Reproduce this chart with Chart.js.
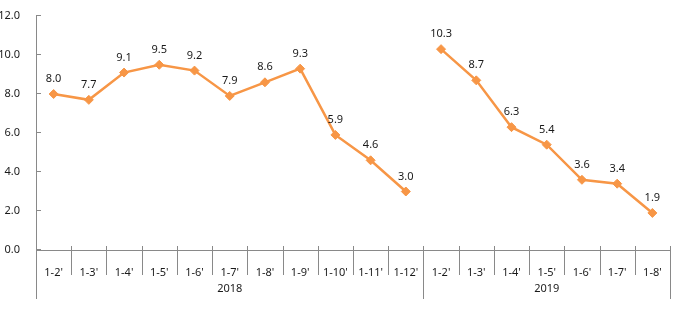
<!DOCTYPE html>
<html>
<head>
<meta charset="utf-8">
<script src="https://cdn.jsdelivr.net/npm/chart.js@4"></script>
<style>
  html, body { margin: 0; padding: 0; background: #fff; }
  #wrap { width: 680px; height: 325px; position: relative; }
</style>
</head>
<body>
<div id="wrap"><canvas id="growthChart"></canvas></div>
<script>
// categories and values
const months2018 = ["1-2'", "1-3'", "1-4'", "1-5'", "1-6'", "1-7'", "1-8'", "1-9'", "1-10'", "1-11'", "1-12'"];
const months2019 = ["1-2'", "1-3'", "1-4'", "1-5'", "1-6'", "1-7'", "1-8'"];
const values2018 = [8.0, 7.7, 9.1, 9.5, 9.2, 7.9, 8.6, 9.3, 5.9, 4.6, 3.0];
const values2019 = [10.3, 8.7, 6.3, 5.4, 3.6, 3.4, 1.9];
const yearLabels = ['2018', '2019'];
const yTicks = [0, 2, 4, 6, 8, 10, 12];

const axisColor = '#898989';
const lineColor = '#F79646';
const textColor = '#1a1a1a';
const fontFamily = '"Noto Sans", "DejaVu Sans", sans-serif';

const labels = months2018.concat(months2019);
const groups = [
  { label: yearLabels[0], count: months2018.length },
  { label: yearLabels[1], count: months2019.length }
];

// pad each year with nulls so the two years are not joined
const data2018 = values2018.concat(months2019.map(() => null));
const data2019 = months2018.map(() => null).concat(values2019);

function lineDataset(data) {
  return {
    data: data,
    borderColor: lineColor,
    backgroundColor: lineColor,
    borderWidth: 2.5,
    pointStyle: 'rectRot',
    pointRadius: 4.5,
    pointBorderWidth: 1,
    pointBorderColor: lineColor,
    pointBackgroundColor: lineColor,
    tension: 0,
    spanGaps: false
  };
}

// value labels above each point
const valueLabels = {
  id: 'valueLabels',
  afterDatasetsDraw(chart) {
    const ctx = chart.ctx;
    ctx.save();
    ctx.font = '11px ' + fontFamily;
    ctx.fillStyle = textColor;
    ctx.textAlign = 'center';
    ctx.textBaseline = 'alphabetic';
    chart.data.datasets.forEach((ds, di) => {
      const meta = chart.getDatasetMeta(di);
      meta.data.forEach((pt, i) => {
        const v = ds.data[i];
        if (v === null) return;
        ctx.fillText(v.toFixed(1), pt.x, pt.y - 12);
      });
    });
    ctx.restore();
  }
};

// category separators, year row and inward y ticks
const axisExtras = {
  id: 'axisExtras',
  afterDraw(chart) {
    const ctx = chart.ctx;
    const x = chart.scales.x;
    const y = chart.scales.y;
    const area = chart.chartArea;
    const step = x.getPixelForValue(1) - x.getPixelForValue(0);
    const boundary = i => x.getPixelForValue(i) - step / 2;
    const crisp = v => Math.round(v) + 0.5;

    ctx.save();
    ctx.strokeStyle = axisColor;
    ctx.lineWidth = 1;

    // group boundary indexes
    const groupEdges = [0];
    groups.forEach(g => groupEdges.push(groupEdges[groupEdges.length - 1] + g.count));

    for (let i = 0; i <= labels.length; i++) {
      const bx = crisp(boundary(i));
      const isGroupEdge = groupEdges.includes(i);
      ctx.beginPath();
      ctx.moveTo(bx, area.bottom - 4);
      ctx.lineTo(bx, isGroupEdge ? area.bottom + 49 : area.bottom + 25);
      ctx.stroke();
    }

    // inward tick marks on the value axis
    yTicks.forEach(t => {
      const ty = crisp(y.getPixelForValue(t)) - 1;
      ctx.beginPath();
      ctx.moveTo(area.left, ty);
      ctx.lineTo(area.left + 5, ty);
      ctx.stroke();
    });

    // year labels
    ctx.font = '11px ' + fontFamily;
    ctx.fillStyle = textColor;
    ctx.textAlign = 'center';
    ctx.textBaseline = 'middle';
    groups.forEach((g, gi) => {
      const left = boundary(groupEdges[gi]);
      const right = boundary(groupEdges[gi + 1]);
      ctx.fillText(g.label, (left + right) / 2, area.bottom + 39);
    });
    ctx.restore();
  }
};

new Chart(document.getElementById('growthChart'), {
  type: 'line',
  data: {
    labels: labels,
    datasets: [lineDataset(data2018), lineDataset(data2019)]
  },
  options: {
    responsive: true,
    maintainAspectRatio: false,
    animation: false,
    layout: { padding: { top: 16, right: 10, left: 0, bottom: 0 } },
    plugins: {
      legend: { display: false },
      tooltip: { enabled: false }
    },
    scales: {
      x: {
        offset: true,
        grid: { display: false },
        border: { display: true, color: axisColor, width: 1 },
        ticks: {
          color: textColor,
          font: { family: fontFamily, size: 11 },
          padding: 8,
          maxRotation: 0,
          autoSkip: false
        },
        afterFit(scale) { scale.height = 75; }
      },
      y: {
        min: 0,
        max: 12,
        grid: { display: false },
        border: { display: true, color: axisColor, width: 1 },
        afterBuildTicks(scale) { scale.ticks = yTicks.map(v => ({ value: v })); },
        ticks: {
          color: textColor,
          font: { family: fontFamily, size: 11 },
          padding: 8,
          callback: v => v.toFixed(1)
        },
        afterFit(scale) { scale.width = 36; }
      }
    }
  },
  plugins: [valueLabels, axisExtras]
});
</script>
</body>
</html>
